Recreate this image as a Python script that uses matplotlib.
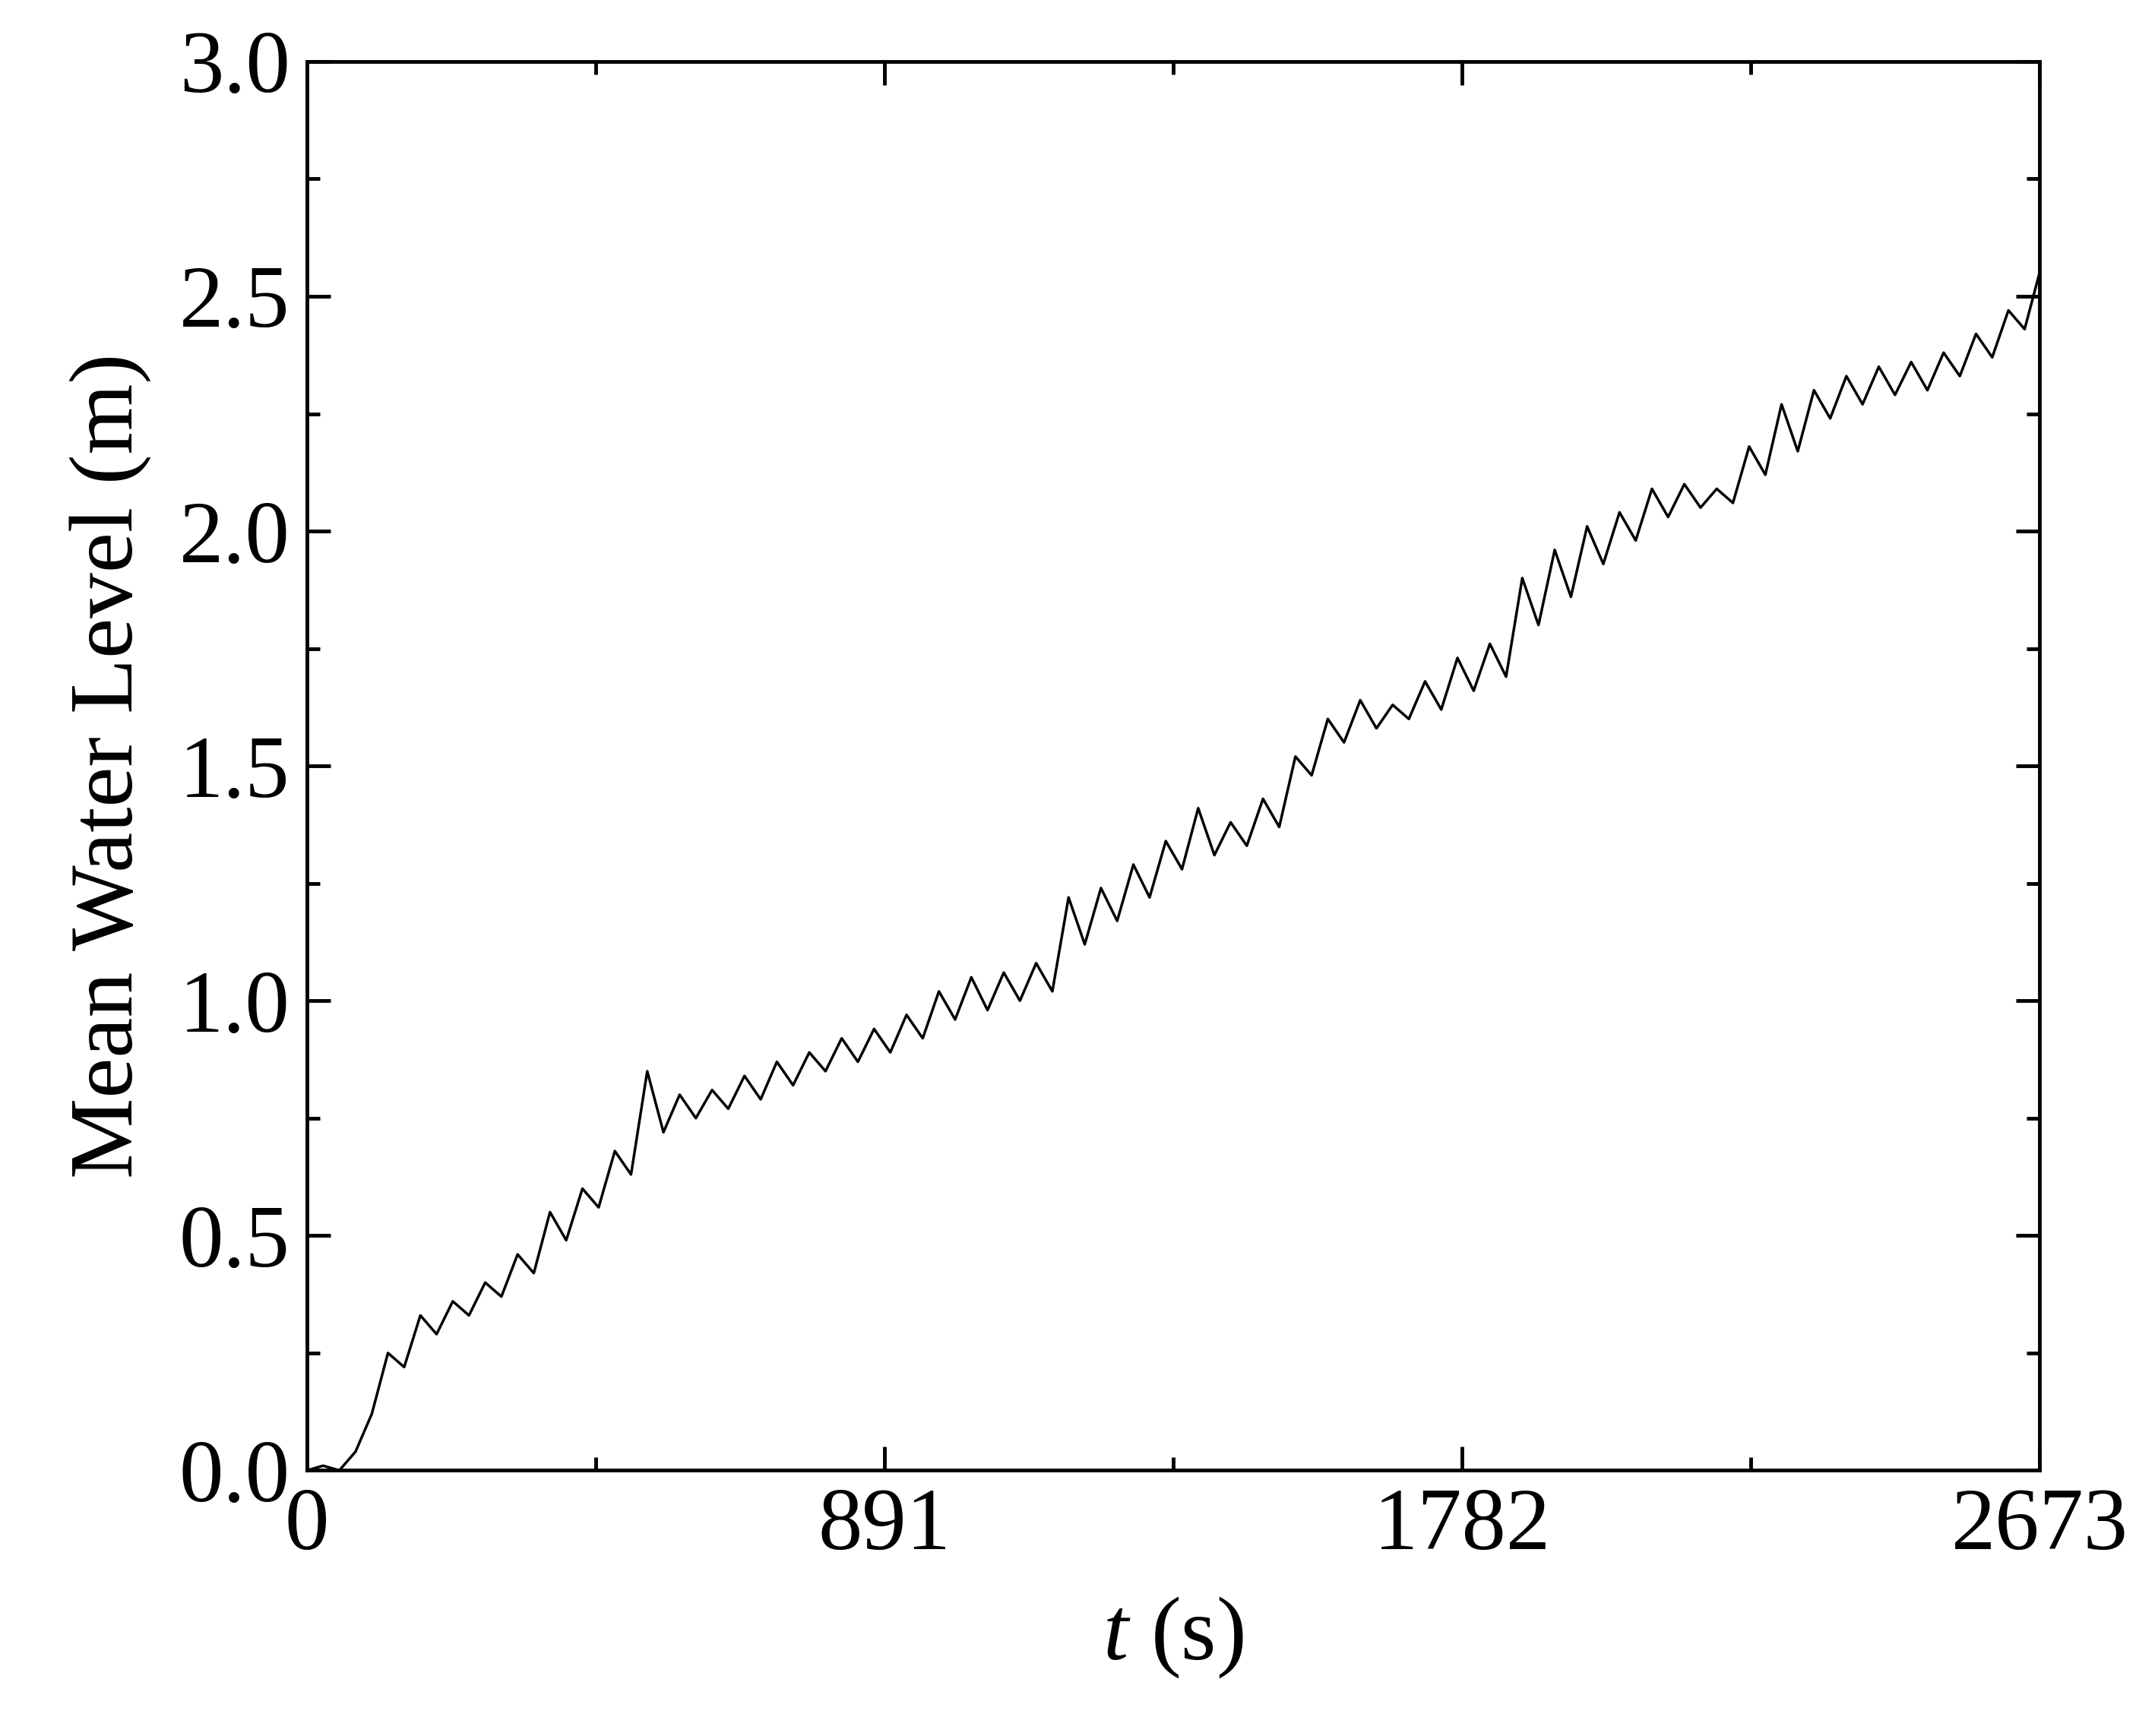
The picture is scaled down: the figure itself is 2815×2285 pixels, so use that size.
import matplotlib
matplotlib.use("Agg")
import matplotlib.pyplot as plt
from matplotlib.ticker import MultipleLocator, FixedLocator

t = [0,25,50,75,100,125,150,175,200,225,250,275,300,325,350,375,400,425,450,475,500,525,550,575,600,625,650,675,700,725,750,775,800,825,850,875,900,925,950,975,1000,1025,1050,1075,1100,1125,1150,1175,1200,1225,1250,1275,1300,1325,1350,1375,1400,1425,1450,1475,1500,1525,1550,1575,1600,1625,1650,1675,1700,1725,1750,1775,1800,1825,1850,1875,1900,1925,1950,1975,2000,2025,2050,2075,2100,2125,2150,2175,2200,2225,2250,2275,2300,2325,2350,2375,2400,2425,2450,2475,2500,2525,2550,2575,2600,2625,2650,2673]
level = [0.00,0.01,0.00,0.04,0.12,0.25,0.22,0.33,0.29,0.36,0.33,0.40,0.37,0.46,0.42,0.55,0.49,0.60,0.56,0.68,0.63,0.85,0.72,0.80,0.75,0.81,0.77,0.84,0.79,0.87,0.82,0.89,0.85,0.92,0.87,0.94,0.89,0.97,0.92,1.02,0.96,1.05,0.98,1.06,1.00,1.08,1.02,1.22,1.12,1.24,1.17,1.29,1.22,1.34,1.28,1.41,1.31,1.38,1.33,1.43,1.37,1.52,1.48,1.60,1.55,1.64,1.58,1.63,1.60,1.68,1.62,1.73,1.66,1.76,1.69,1.90,1.80,1.96,1.86,2.01,1.93,2.04,1.98,2.09,2.03,2.10,2.05,2.09,2.06,2.18,2.12,2.27,2.17,2.30,2.24,2.33,2.27,2.35,2.29,2.36,2.30,2.38,2.33,2.42,2.37,2.47,2.43,2.55]
xticks = [0, 891, 1782, 2673]

plt.rcParams['font.family'] = ['Liberation Serif', 'DejaVu Serif']
plt.rcParams['mathtext.fontset'] = 'custom'
plt.rcParams['mathtext.rm'] = 'Liberation Serif'
plt.rcParams['mathtext.it'] = 'Liberation Serif:italic'
fig = plt.figure(figsize=(28.15, 22.85), dpi=100)
ax = fig.add_axes([0.1435, 0.153, 0.81, 0.8116])
ax.plot(t, level, color='black', lw=2.5)
ax.set_xlim(0, 2673)
ax.set_ylim(0, 3.0)
ax.xaxis.set_major_locator(FixedLocator(xticks))
ax.xaxis.set_minor_locator(FixedLocator([445.5, 1336.5, 2227.5]))
ax.yaxis.set_major_locator(MultipleLocator(0.5))
ax.yaxis.set_minor_locator(MultipleLocator(0.25))
ax.yaxis.set_major_formatter(matplotlib.ticker.FormatStrFormatter('%.1f'))
ax.tick_params(which='both', direction='in', top=True, right=True, width=3.5, labelsize=84, pad=16)
ax.tick_params(which='major', length=22)
ax.tick_params(which='minor', length=12)
for s in ax.spines.values():
    s.set_linewidth(3.5)
ax.set_xlabel(r'$t$ (s)', fontsize=86, labelpad=26)
ax.set_ylabel('Mean Water Level (m)', fontsize=86, labelpad=26)
fig.savefig('out.png', dpi=100)
